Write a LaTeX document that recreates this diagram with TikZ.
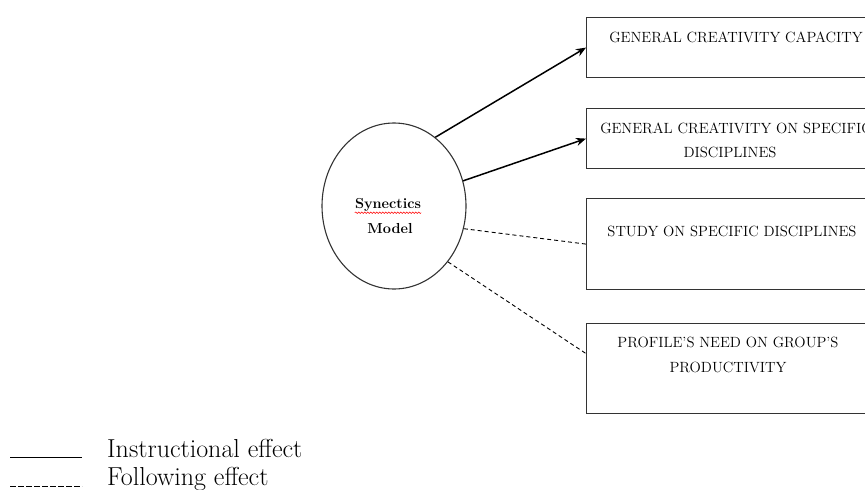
\documentclass[tikz,border=0pt]{standalone}
\usetikzlibrary{shapes.geometric,arrows.meta,decorations.pathmorphing}
\begin{document}
\begin{tikzpicture}[x=1pt,y=-1pt,
  box/.style={draw=black!80,line width=1.2pt,rectangle,minimum width=290pt,minimum height=#1,anchor=north west,inner sep=0pt},
  boxtext/.style={font=\fontsize{14.8}{17}\selectfont,align=center,inner sep=0pt},
  solidarrow/.style={line width=1.5pt,-{Stealth[length=10pt,width=8pt]}},
  dasharrow/.style={line width=0.9pt,dash pattern=on 4pt off 3pt},
  legtext/.style={font=\fontsize{26}{29}\selectfont,anchor=base west,inner sep=0pt},
  syntext/.style={font=\fontsize{14.5}{16}\selectfont\bfseries,inner sep=0pt}
]
\useasboundingbox (0,0) rectangle (865,490);
\clip (0,0) rectangle (865,490);
% central ellipse
\node[ellipse,draw=black!80,line width=1.1pt,minimum width=144pt,minimum height=166pt,inner sep=0pt] (syn) at (394,206) {};
\node[syntext] (t1) at (388,205) {Synectics};
\node[syntext] (t2) at (390,229) {Model};
\draw[red,line width=0.5pt,decorate,decoration={snake,amplitude=0.8pt,segment length=3pt}] ([yshift=-1pt]t1.south west) -- ([yshift=-1pt]t1.south east);
% boxes
\node[box=60pt] (b1) at (586,17) {};
\node[box=60pt] (b2) at (586,108) {};
\node[box=91pt] (b3) at (586,198) {};
\node[box=90pt] (b4) at (586,323) {};
% box texts
\node[boxtext] (l1) at (736,37) {GENERAL CREATIVITY CAPACITY};
\node[boxtext] (l2a) at (736,128) {GENERAL CREATIVITY ON SPECIFIC};
\node[boxtext] (l2b) at (730,152) {DISCIPLINES};
\node[boxtext] (l3) at (732,231) {STUDY ON SPECIFIC DISCIPLINES};
\node[boxtext] (l4a) at (728,342) {PROFILE'S NEED ON GROUP'S};
\node[boxtext] (l4b) at (728,367) {PRODUCTIVITY};
% connectors
\draw[solidarrow] (syn.59) -- (b1.west);
\draw[solidarrow] (syn.20) -- (b2.west);
\draw[dasharrow] (syn.-18) -- (b3.west);
\draw[dasharrow] (syn.-46) -- ([yshift=15pt]b4.west);
% legend
\coordinate (s1) at (10,457);
\coordinate (s2) at (82,457);
\coordinate (d1) at (10,486);
\coordinate (d2) at (82,486);
\draw[line width=0.9pt] (s1) -- (s2);
\draw[line width=0.9pt,dash pattern=on 5.5pt off 2.5pt] (d1) -- (d2);
\node[legtext] (li) at (107,457) {Instructional effect};
\node[legtext] (lf) at (107,485) {Following effect};
\end{tikzpicture}
\end{document}
